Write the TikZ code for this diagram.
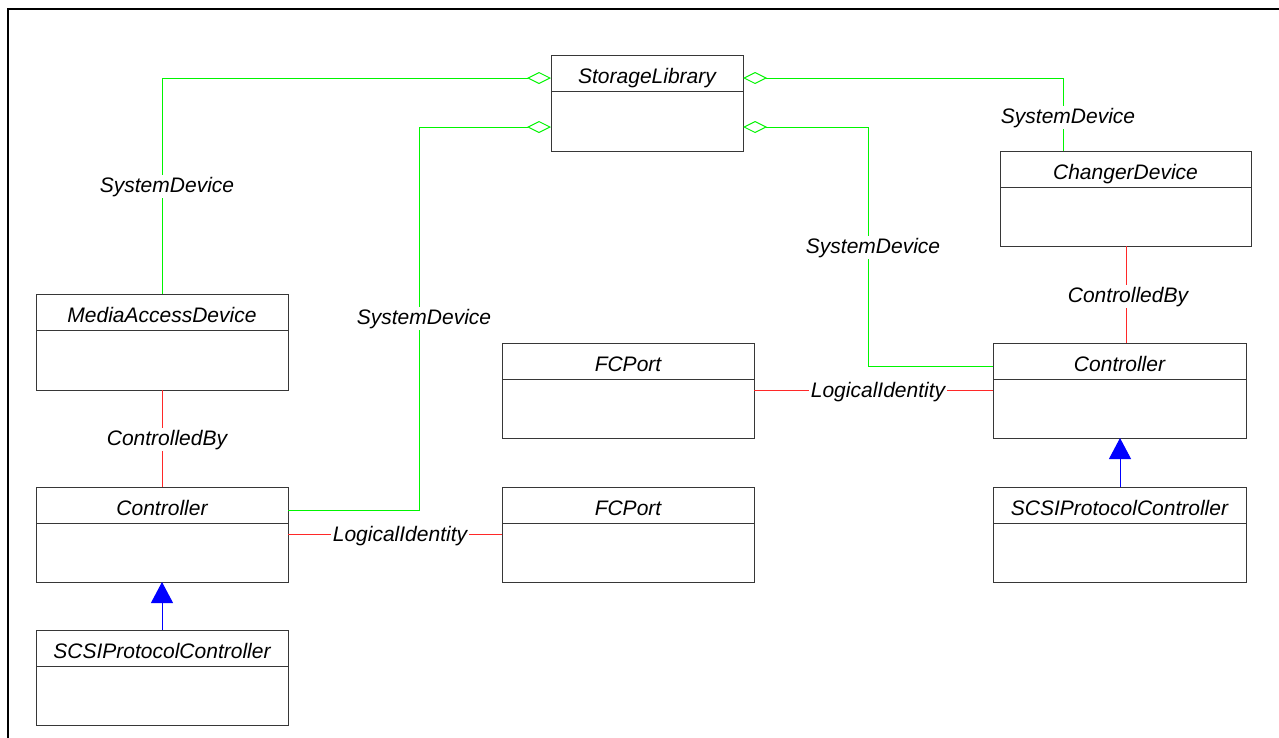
\documentclass[tikz,border=0pt]{standalone}
\usepackage{fontspec}
\setmainfont{Liberation Sans}
\usetikzlibrary{arrows.meta}
\definecolor{umlgreen}{RGB}{0,245,0}
\definecolor{umlred}{RGB}{255,40,40}
\definecolor{umlblue}{RGB}{0,0,255}
\definecolor{boxgray}{RGB}{55,55,55}
\tikzset{
  clsbox/.style={draw=boxgray, line width=1pt, inner sep=0pt, outer sep=0pt},
  clsline/.style={draw=boxgray, line width=1pt},
  clstitle/.style={anchor=base, inner sep=0pt, font=\fontsize{21}{25}\selectfont\itshape},
  lbl/.style={anchor=base, fill=white, inner sep=2pt, font=\fontsize{21}{25}\selectfont\itshape},
  agg/.style={draw=umlgreen, line width=1pt, {Diamond[fill=white,length=24pt,width=12pt]}-},
  assoc/.style={draw=umlred, line width=1pt},
  inherit/.style={draw=umlblue, line width=1pt, -{Triangle[length=21pt,width=22pt,fill=umlblue]}},
}
\newcommand\umlcls[6]{%
  \node[clsbox, minimum width=#4pt, minimum height=#5pt] (#1) at (#2,#3) {};
  \draw[clsline] ([yshift=-36.5pt]#1.north west) -- ([yshift=-36.5pt]#1.north east);
  \node[clstitle] (#1-t) at ([yshift=-28pt]#1.north) {#6};
}
\begin{document}
\begin{tikzpicture}[x=1pt,y=-1pt]
\useasboundingbox (0,0) rectangle (1279,737);
% frame
\draw[line width=1.8pt] (8.3,745) -- (8.3,9) -- (1290,9);
% classes
\umlcls{SL}{647}{103}{192}{96}{StorageLibrary}
\umlcls{CD}{1125.5}{198.5}{251}{95}{ChangerDevice}
\umlcls{CR}{1119.5}{390.5}{253}{95}{Controller}
\umlcls{FPa}{628}{390.5}{252}{95}{FCPort}
\umlcls{SR}{1119.5}{534.5}{253}{95}{SCSIProtocolController}
\umlcls{MAD}{162}{342}{252}{96}{MediaAccessDevice}
\umlcls{CL}{162}{534.5}{252}{95}{Controller}
\umlcls{FPb}{628}{534.5}{252}{95}{FCPort}
\umlcls{SP}{162}{677.5}{252}{95}{SCSIProtocolController}
% aggregations
\draw[agg] ([yshift=-23pt]SL.north west) -| (MAD.north);
\draw[agg] ([yshift=-72pt]SL.north west) -- (419,127) |- ([yshift=-23pt]CL.north east);
\draw[agg] ([yshift=-23pt]SL.north east) -| ([xshift=-62.5pt]CD.north);
\draw[agg] ([yshift=-72pt]SL.north east) -- (868,127) |- ([yshift=-23pt]CR.north west);
% associations
\draw[assoc] (MAD.south) -- (CL.north);
\draw[assoc] ([xshift=0.5pt]CD.south) -- ([xshift=0.5pt]CD.south |- CR.north);
\draw[assoc] (FPa.east) -- (CR.west);
\draw[assoc] (CL.east) -- (FPb.west);
% inheritance
\draw[inherit] ([xshift=0.5pt]SR.north) -- ([xshift=0.5pt]CR.south);
\draw[inherit] (SP.north) -- (CL.south);
% labels
\node[lbl] (l1) at (167,192) {SystemDevice};
\node[lbl] (l2) at (424,324) {SystemDevice};
\node[lbl] (l3) at (1068,123) {SystemDevice};
\node[lbl] (l4) at (873,253) {SystemDevice};
\node[lbl] (l5) at (167,445) {ControlledBy};
\node[lbl] (l6) at (1128,302) {ControlledBy};
\node[lbl] (l7) at (878,397) {LogicalIdentity};
\node[lbl] (l8) at (400,541) {LogicalIdentity};
\end{tikzpicture}
\end{document}
